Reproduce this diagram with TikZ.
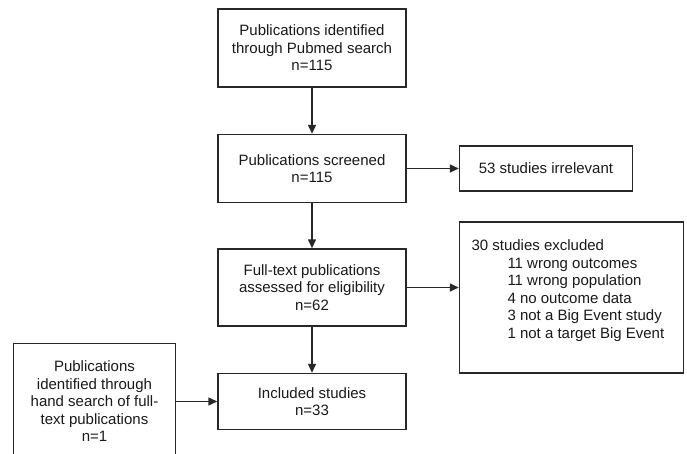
\documentclass[tikz,border=0pt]{standalone}
\usepackage{fontspec}
\setmainfont{Liberation Sans}
\usetikzlibrary{positioning,arrows.meta}
\definecolor{boxline}{RGB}{40,40,40}

\begin{document}
\begin{tikzpicture}[->,>={Triangle[length=9pt,width=8pt]},x=1pt,y=1pt,
  box/.style={rectangle,draw=boxline,line width=1.5pt,align=center,inner sep=2pt,
    font=\fontsize{15}{17.5}\selectfont,text=black!90},
  link/.style={draw=boxline,line width=1.5pt}]

  \useasboundingbox (0,0) rectangle (687,-453);

  \node[box,minimum width=188pt,minimum height=78pt] (pub) at (312,-48)
    {Publications identified\\through Pubmed search\\n=115};
  \node[box,minimum width=188pt,minimum height=68pt] (screen) [below=46pt of pub]
    {Publications screened\\n=115};
  \node[box,minimum width=188pt,minimum height=77pt] (full) [below=45pt of screen]
    {Full-text publications\\assessed for eligibility\\n=62};
  \node[box,minimum width=188pt,minimum height=56pt] (incl) [below=46pt of full]
    {Included studies\\n=33};
  \node[box,minimum width=173pt,minimum height=45pt] (irrel) [right=52pt of screen]
    {53 studies irrelevant};
  \node[box,inner sep=0pt] (excl) [right=52pt of full,yshift=-10pt]
    {\begin{minipage}[t][151pt][t]{224pt}\raggedright
      \vspace*{18pt}\hspace*{12pt}30 studies excluded\\
      \hspace*{48pt}11 wrong outcomes\\
      \hspace*{48pt}11 wrong population\\
      \hspace*{48pt}4 no outcome data\\
      \hspace*{48pt}3 not a Big Event study\\
      \hspace*{48pt}1 not a target Big Event
    \end{minipage}};
  \node[box,minimum width=162pt,minimum height=116pt] (hand) [left=41pt of incl]
    {Publications\\identified through\\hand search of full-\\text publications\\n=1};

\path[link]
	(pub) edge[link] (screen)
	(screen) edge[link] (full)
	(full) edge[link] (incl)
	(screen) edge[link] (irrel)
	(hand) edge[link] (incl);
  \draw[link] (full.east) -- (full.east -| excl.west);
\end{tikzpicture}
\end{document}
